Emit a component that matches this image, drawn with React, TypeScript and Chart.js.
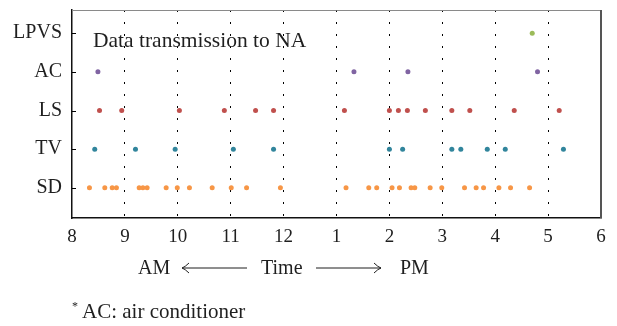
import React, { useEffect, useRef } from "react";
import { Chart, registerables } from "chart.js";

Chart.register(...registerables);

const categories = ["SD", "TV", "LS", "AC", "LPVS"];
const xTickLabels = ["8", "9", "10", "11", "12", "1", "2", "3", "4", "5", "6"];

// hours on a 24h clock (13 = 1 PM)
const sdTimes = [8.33, 8.62, 8.76, 8.84, 9.27, 9.34, 9.42, 9.78, 9.99, 10.22, 10.65, 11.01, 11.3, 11.94, 13.18, 13.61, 13.76, 14.05, 14.19, 14.41, 14.48, 14.77, 14.99, 15.42, 15.64, 15.78, 16.07, 16.29, 16.65];
const tvTimes = [8.43, 9.2, 9.95, 11.05, 11.81, 14.0, 14.25, 15.18, 15.35, 15.85, 16.19, 17.29];
const lsTimes = [8.52, 8.94, 10.03, 10.88, 11.47, 11.81, 13.15, 14.0, 14.17, 14.34, 14.68, 15.18, 15.52, 16.36, 17.21];
const acTimes = [8.49, 13.33, 14.35, 16.8];
const lpvsTimes = [16.7];

const seriesTimes = [sdTimes, tvTimes, lsTimes, acTimes, lpvsTimes];
const seriesColors = ["#f79646", "#31859c", "#c0504d", "#8064a2", "#9bbb59"];

const annotationText = "Data transmission to NA";
const axisTitleParts = ["AM", "Time", "PM"];
const footnoteMark = "*";
const footnoteText = "AC: air conditioner";

const FONT = "'Liberation Serif', 'DejaVu Serif', serif";
const TEXT = "#1f1f1f";

const decorPlugin = {
  id: "decor",
  afterDraw(chart: any) {
    const { ctx, chartArea, scales } = chart;
    const { left, right, top, bottom } = chartArea;
    ctx.save();
    // top & right frame
    ctx.strokeStyle = "#8a8a8a";
    ctx.lineWidth = 1;
    ctx.beginPath();
    ctx.moveTo(left, top + 0.5);
    ctx.lineTo(right, top + 0.5);
    ctx.stroke();
    ctx.strokeStyle = "#555";
    ctx.lineWidth = 2;
    ctx.beginPath();
    ctx.moveTo(right, top);
    ctx.lineTo(right, bottom);
    ctx.stroke();
    // inward y ticks
    ctx.strokeStyle = "#000";
    ctx.lineWidth = 1;
    categories.forEach((_, i) => {
      const y = Math.round(scales.y.getPixelForValue(i + 1)) + 0.5;
      ctx.beginPath();
      ctx.moveTo(left, y);
      ctx.lineTo(left + 4, y);
      ctx.stroke();
    });
    // annotation
    ctx.fillStyle = TEXT;
    ctx.textBaseline = "alphabetic";
    ctx.textAlign = "left";
    ctx.font = `21.5px ${FONT}`;
    ctx.fillText(annotationText, left + 21, top + 37);

    // axis title: AM <---- Time ----> PM
    const baseY = 274;
    const arrowY = 268;
    ctx.font = `20px ${FONT}`;
    ctx.fillText(axisTitleParts[0], 138, baseY);
    ctx.fillText(axisTitleParts[1], 261, baseY);
    ctx.fillText(axisTitleParts[2], 400, baseY);
    const arrow = (x1: number, x2: number, dir: number) => {
      ctx.strokeStyle = "#1f1f1f";
      ctx.lineWidth = 1;
      ctx.beginPath();
      ctx.moveTo(x1, arrowY);
      ctx.lineTo(x2, arrowY);
      ctx.stroke();
      const tip = dir < 0 ? x1 : x2;
      const back = tip - dir * 7;
      ctx.beginPath();
      ctx.moveTo(back, arrowY - 5);
      ctx.quadraticCurveTo(tip - dir * 3, arrowY - 1, tip, arrowY);
      ctx.quadraticCurveTo(tip - dir * 3, arrowY + 1, back, arrowY + 5);
      ctx.stroke();
    };
    arrow(182, 247, -1);
    arrow(316, 381, 1);

    // footnote
    ctx.font = `12px ${FONT}`;
    ctx.fillText(footnoteMark, 72, 310);
    ctx.font = `21px ${FONT}`;
    ctx.fillText(footnoteText, 82, 318);
    ctx.restore();
  },
};

export default function App() {
  const canvasRef = useRef<HTMLCanvasElement | null>(null);

  useEffect(() => {
    document.body.style.margin = "0";
    const canvas = canvasRef.current;
    if (!canvas) return;
    const datasets = seriesTimes.map((times, i) => ({
      label: categories[i],
      data: times.map((t) => ({ x: t, y: i + 1 })),
      backgroundColor: seriesColors[i],
      borderColor: seriesColors[i],
      borderWidth: 0,
      pointRadius: 2.5,
      pointHoverRadius: 2.5,
    }));
    const chart = new Chart(canvas, {
      type: "scatter",
      data: { datasets },
      options: {
        animation: false,
        responsive: true,
        maintainAspectRatio: false,
        layout: { padding: { top: 10, right: 16, left: 0, bottom: 0 } },
        plugins: { legend: { display: false }, tooltip: { enabled: false }, title: { display: false } },
        scales: {
          x: {
            type: "linear",
            min: 8,
            max: 18,
            afterFit: (s: any) => {
              s.height = 108;
              s.paddingLeft = 0;
              s.paddingRight = 0;
            },
            ticks: {
              stepSize: 1,
              padding: 8,
              color: TEXT,
              font: { family: FONT, size: 19 },
              maxRotation: 0,
              callback: (v: any) => xTickLabels[Math.round(Number(v)) - 8],
            },
            grid: {
              drawTicks: false,
              drawOnChartArea: true,
              lineWidth: 1,
              color: (c: any) => {
                const v = c.tick ? c.tick.value : 0;
                return v === 8 || v === 18 ? "rgba(0,0,0,0)" : "#000";
              },
            },
            border: { display: true, color: "#111", width: 1.5, dash: [2, 10] },
          },
          y: {
            type: "linear",
            min: 0.22,
            max: 5.6,
            afterFit: (s: any) => {
              s.width = 72;
              s.paddingTop = 0;
              s.paddingBottom = 0;
            },
            afterBuildTicks: (s: any) => {
              s.ticks = categories.map((_, i) => ({ value: i + 1 }));
            },
            ticks: {
              padding: 10,
              color: TEXT,
              font: { family: FONT, size: 20 },
              callback: (v: any) => categories[Math.round(Number(v)) - 1],
            },
            grid: { display: true, drawOnChartArea: false, drawTicks: false },
            border: { display: true, color: "#111", width: 1.5 },
          },
        },
      },
      plugins: [decorPlugin],
    });
    return () => chart.destroy();
  }, []);

  return (
    <div style={{ position: "relative", width: 617, height: 326 }}>
      <canvas ref={canvasRef} />
    </div>
  );
}
